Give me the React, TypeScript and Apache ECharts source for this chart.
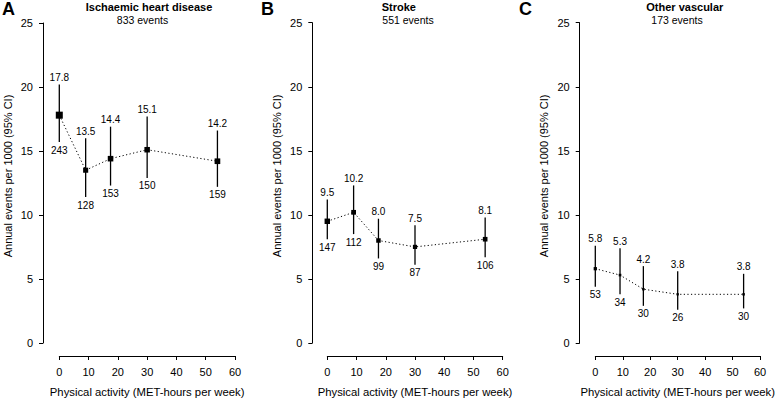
import React, { useEffect, useRef } from "react";
import * as echarts from "echarts";

const xValues = [0, 9, 17.5, 30, 54];

const ihdEstimate = [17.8, 13.5, 14.4, 15.1, 14.2];
const ihdLower = [15.7, 11.4, 12.3, 12.9, 12.2];
const ihdUpper = [20.2, 16.0, 16.9, 17.7, 16.6];
const ihdEvents = [243, 128, 153, 150, 159];

const strokeEstimate = [9.5, 10.2, 8.0, 7.5, 8.1];
const strokeLower = [8.1, 8.5, 6.6, 6.1, 6.7];
const strokeUpper = [11.2, 12.3, 9.7, 9.2, 9.8];
const strokeEvents = [147, 112, 99, 87, 106];

const otherEstimate = [5.8, 5.3, 4.2, 3.8, 3.8];
const otherLower = [4.4, 3.8, 2.9, 2.6, 2.7];
const otherUpper = [7.6, 7.4, 6.0, 5.6, 5.4];
const otherEvents = [53, 34, 30, 26, 30];

const panelLetters = ["A", "B", "C"];
const panelTitles = ["Ischaemic heart disease", "Stroke", "Other vascular"];
const panelTotals = ["833 events", "551 events", "173 events"];

const xTicks = { min: 0, max: 60, interval: 10 };
const yTicks = { min: 0, max: 25, interval: 5 };
const xAxisTitle = "Physical activity (MET-hours per week)";
const yAxisTitle = "Annual events per 1000 (95% CI)";

const FONT = "'Liberation Sans', Arial, Helvetica, sans-serif";

const panels = [
  { est: ihdEstimate, lo: ihdLower, hi: ihdUpper, n: ihdEvents },
  { est: strokeEstimate, lo: strokeLower, hi: strokeUpper, n: strokeEvents },
  { est: otherEstimate, lo: otherLower, hi: otherUpper, n: otherEvents },
];

// layout (pixels)
const layout = [
  { left: 59.3, width: 175.7, top: 23, height: 323, yOff: 16.3, titleX: 149, totalX: 142.5, letterX: 2 },
  { left: 327.3, width: 175.4, top: 22.7, height: 322.6, yOff: 15, titleX: 398.8, totalX: 408, letterX: 261 },
  { left: 595.3, width: 175, top: 22.7, height: 322.6, yOff: 15.6, titleX: 684.8, totalX: 677, letterX: 519 },
];

export default function App() {
  const ref = useRef<HTMLDivElement>(null);
  useEffect(() => {
    document.body.style.margin = "0";
    if (!ref.current) return;
    const chart = echarts.init(ref.current, null, { renderer: "svg" });

    const grid: any[] = [];
    const xAxis: any[] = [];
    const yAxis: any[] = [];
    const series: any[] = [];
    const graphic: any[] = [];

    panels.forEach((p, i) => {
      const L = layout[i];
      grid.push({ left: L.left, top: L.top, width: L.width, height: L.height, containLabel: false });
      xAxis.push({
        type: "value",
        gridIndex: i,
        min: xTicks.min,
        max: xTicks.max,
        interval: xTicks.interval,
        offset: 13,
        name: xAxisTitle,
        nameLocation: "middle",
        nameGap: 30,
        nameTextStyle: { fontFamily: FONT, fontSize: 11.3, color: "#000" },
        axisLine: { show: true, onZero: false, lineStyle: { color: "#000", width: 1 } },
        axisTick: { show: true, length: 4, lineStyle: { color: "#000", width: 1 } },
        axisLabel: { fontFamily: FONT, fontSize: 11, color: "#000", margin: 10 },
        splitLine: { show: false },
      });
      yAxis.push({
        type: "value",
        gridIndex: i,
        min: yTicks.min,
        max: yTicks.max,
        interval: yTicks.interval,
        offset: L.yOff,
        name: yAxisTitle,
        nameLocation: "middle",
        nameGap: 30,
        nameTextStyle: { fontFamily: FONT, fontSize: 11, color: "#000", padding: [0, 0, 0, 14] },
        axisLine: { show: true, onZero: false, lineStyle: { color: "#000", width: 1 } },
        axisTick: { show: true, length: 4, lineStyle: { color: "#000", width: 1 } },
        axisLabel: { fontFamily: FONT, fontSize: 11, color: "#000", margin: 10 },
        splitLine: { show: false },
      });

      const ciData = xValues.map((x, k) => [x, p.lo[k], p.hi[k], p.est[k], p.n[k]]);
      series.push({
        type: "custom",
        xAxisIndex: i,
        yAxisIndex: i,
        clip: false,
        silent: true,
        encode: { x: 0, y: [1, 2] },
        data: ciData,
        renderItem: (_params: any, api: any) => {
          const x = api.value(0);
          const lo = api.value(1);
          const hi = api.value(2);
          const est = api.value(3);
          const n = api.value(4);
          const pLo = api.coord([x, lo]);
          const pHi = api.coord([x, hi]);
          return {
            type: "group",
            children: [
              {
                type: "line",
                shape: { x1: pLo[0], y1: pLo[1], x2: pHi[0], y2: pHi[1] },
                style: { stroke: "#000", lineWidth: 1.3 },
              },
              {
                type: "text",
                x: pHi[0],
                y: pHi[1] - 2,
                style: {
                  text: Number(est).toFixed(1),
                  align: "center",
                  verticalAlign: "bottom",
                  fill: "#000",
                  font: `10px ${FONT}`,
                },
              },
              {
                type: "text",
                x: pLo[0],
                y: pLo[1] + 3,
                style: {
                  text: String(n),
                  align: "center",
                  verticalAlign: "top",
                  fill: "#000",
                  font: `10px ${FONT}`,
                },
              },
            ],
          };
        },
      });

      series.push({
        type: "line",
        xAxisIndex: i,
        yAxisIndex: i,
        clip: false,
        silent: true,
        data: xValues.map((x, k) => [x, p.est[k]]),
        lineStyle: { color: "#000", width: 1, type: [1.2, 2.4] },
        symbol: "rect",
        symbolSize: (_v: any, params: any) => 0.45 * Math.sqrt(p.n[params.dataIndex]),
        itemStyle: { color: "#000" },
        showSymbol: true,
        showAllSymbol: true,
        z: 3,
      });

      graphic.push(
        {
          type: "text",
          left: L.letterX,
          top: 0,
          style: { text: panelLetters[i], fill: "#000", font: `bold 18px ${FONT}` },
        },
        {
          type: "text",
          x: L.titleX,
          y: 6.5,
          style: {
            text: panelTitles[i],
            fill: "#000",
            font: `bold 11px ${FONT}`,
            align: "center",
            verticalAlign: "middle",
          },
        },
        {
          type: "text",
          x: L.totalX,
          y: 19.5,
          style: {
            text: panelTotals[i],
            fill: "#000",
            font: `10.5px ${FONT}`,
            align: "center",
            verticalAlign: "middle",
          },
        }
      );
    });

    chart.setOption({
      animation: false,
      backgroundColor: "#fff",
      grid,
      xAxis,
      yAxis,
      series,
      graphic,
    });
    return () => chart.dispose();
  }, []);
  return <div ref={ref} style={{ width: 778, height: 402 }} />;
}
